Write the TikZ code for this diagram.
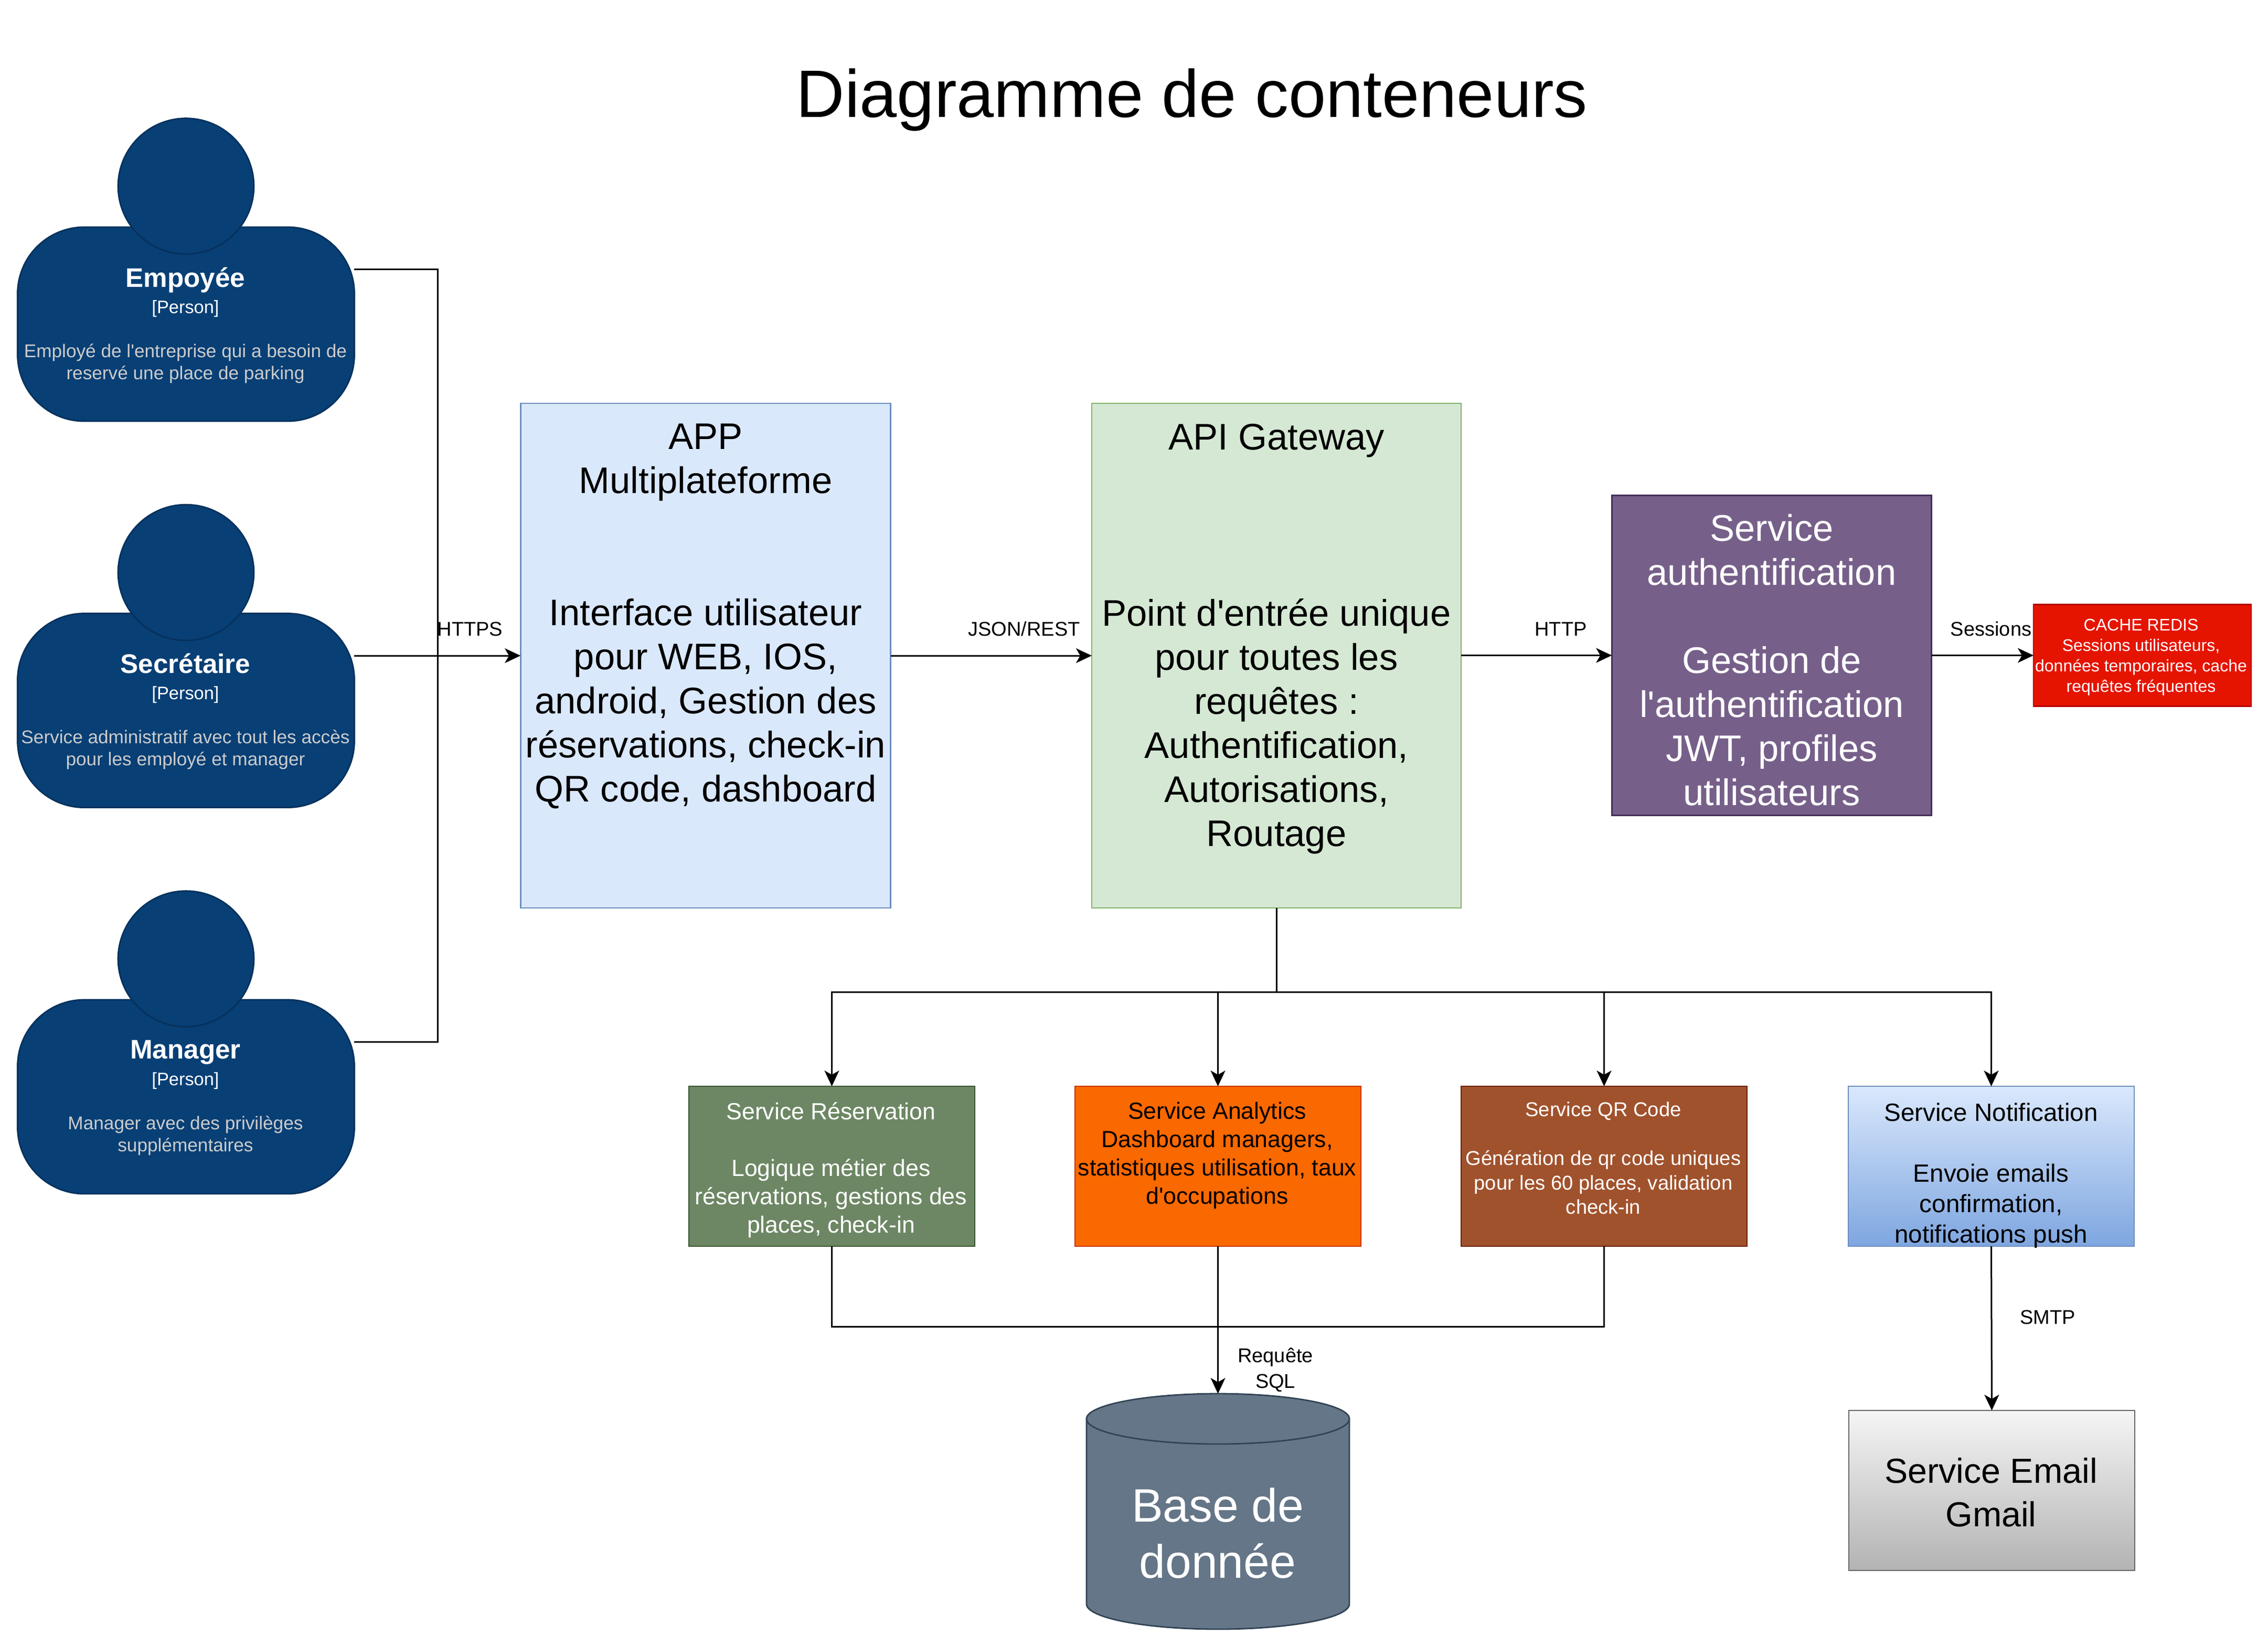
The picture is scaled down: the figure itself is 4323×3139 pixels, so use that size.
\documentclass[tikz,border=0pt]{standalone}
\usepackage{fontspec}
\setmainfont{Liberation Sans}[Ligatures=TeXOff]
\usetikzlibrary{arrows.meta,calc}
\definecolor{pfill}{HTML}{083F75}
\definecolor{pline}{HTML}{06315C}
\definecolor{pdesc}{HTML}{CCCCCC}
\definecolor{appfill}{HTML}{DAE8FC}
\definecolor{appline}{HTML}{6C8EBF}
\definecolor{apifill}{HTML}{D5E8D4}
\definecolor{apiline}{HTML}{82B366}
\definecolor{authfill}{HTML}{76608A}
\definecolor{authline}{HTML}{432D57}
\definecolor{redfill}{HTML}{E51400}
\definecolor{redline}{HTML}{B20000}
\definecolor{resfill}{HTML}{6D8764}
\definecolor{resline}{HTML}{3A5431}
\definecolor{orfill}{HTML}{FA6800}
\definecolor{orline}{HTML}{C73500}
\definecolor{qrfill}{HTML}{A0522D}
\definecolor{qrline}{HTML}{6D1F00}
\definecolor{notiftop}{HTML}{DAE8FC}
\definecolor{notifbot}{HTML}{7EA6E0}
\definecolor{mailtop}{HTML}{F5F5F5}
\definecolor{mailbot}{HTML}{B3B3B3}
\definecolor{mailline}{HTML}{666666}
\definecolor{dbfill}{HTML}{647687}
\definecolor{dbline}{HTML}{314354}
\newcommand{\fs}[2]{\fontsize{#1pt}{#2pt}\selectfont}
\tikzset{
  x=0.25pt,y=-0.25pt,
  shapebox/.style={draw,rectangle,inner sep=0pt,outer sep=0pt,line width=0.7pt},
  bigtxt/.style={align=center,inner sep=0pt,font=\fs{17.65}{21}},
  edgetxt/.style={align=center,inner sep=0pt,font=\fs{9.5}{11.75}},
  conn/.style={draw=black,line width=0.75pt,-{Stealth[length=7.5pt,width=7pt,inset=2pt]}},
  plain/.style={draw=black,line width=0.75pt},
  body/.style={draw=pline,fill=pfill,rectangle,rounded corners=31.75pt,inner sep=0pt,outer sep=0pt,line width=0.7pt,minimum width=160.5pt,minimum height=92.5pt},
  head/.style={draw=pline,fill=pfill,circle,inner sep=0pt,outer sep=0pt,line width=0.7pt,minimum size=64.7pt},
  ptxt/.style={align=center,inner sep=0pt,text=white,font=\fs{8.8}{10.5}},
  dbshape/.style={draw=dbline,fill=dbfill,line width=0.7pt},
}
\newcommand{\persontext}[3]{\fs{12.8}{10.5}\bfseries #1\\[2pt]\fs{8.6}{10.5}[Person]\\[10.5pt]\fs{8.8}{10.5}\textcolor{pdesc}{#2}\\\fs{8.8}{10.5}\textcolor{pdesc}{#3}}
\begin{document}
\begin{tikzpicture}
\useasboundingbox (0,0) rectangle (4323,3139);
% title
\node[inner sep=0pt,font=\fs{32}{38}] (title) at (2272,190) {Diagramme de conteneurs};
% persons
\node[body] (pa) at (354.5,618) {};
\node[head] (pah) at (354.5,355) {};
\node[ptxt] (pat) at (353.5,620) {\persontext{Empoyée}{Employé de l'entreprise qui a besoin de}{reservé une place de parking}};
\node[body] (pb) at (354.5,1354.5) {};
\node[head] (pbh) at (354.5,1091.5) {};
\node[ptxt] (pbt) at (353.5,1356.5) {\persontext{Secrétaire}{Service administratif avec tout les accès}{pour les employé et manager}};
\node[body] (pc) at (354.5,2091) {};
\node[head] (pch) at (354.5,1828) {};
\node[ptxt] (pct) at (353.5,2093) {\persontext{Manager}{Manager avec des privilèges}{supplémentaires}};
\coordinate (paout) at (675,513);
\coordinate (pbout) at (675,1250);
\coordinate (pcout) at (675,1986);
\coordinate (bus) at (834,1250);
% main boxes
\node[shapebox,draw=appline,fill=appfill,minimum width=176.4pt,minimum height=240.5pt] (app) at (1345,1250) {};
\node[bigtxt] (appt) at (1345,1175) {APP\\Multiplateforme\\\mbox{}\\\mbox{}\\Interface utilisateur\\pour WEB, IOS,\\android, Gestion des\\réservations, check-in\\QR code, dashboard};
\node[shapebox,draw=apiline,fill=apifill,minimum width=176pt,minimum height=240.5pt] (api) at (2433,1250) {};
\node[bigtxt] (apit) at (2433,1218) {API Gateway\\\mbox{}\\\mbox{}\\\mbox{}\\Point d'entrée unique\\pour toutes les\\requêtes :\\Authentification,\\Autorisations,\\Routage};
\node[shapebox,draw=authline,fill=authfill,minimum width=152.35pt,minimum height=152.35pt] (auth) at (3377,1249.5) {};
\node[bigtxt,text=white] (autht) at (3377,1258) {Service\\authentification\\\mbox{}\\Gestion de\\l'authentification\\JWT, profiles\\utilisateurs};
\node[shapebox,draw=redline,fill=redfill,minimum width=103.75pt,minimum height=48.5pt] (cache) at (4083.5,1249.5) {};
\node[align=center,inner sep=0pt,text=white,font=\fs{8}{9.75}] (cachet) at (4081,1253) {CACHE REDIS\\Sessions utilisateurs,\\données temporaires, cache\\requêtes fréquentes};
% services
\node[shapebox,draw=resline,fill=resfill,minimum width=136.25pt,minimum height=76.25pt] (res) at (1585.5,2223.5) {};
\node[align=center,inner sep=0pt,text=white,font=\fs{11.15}{13.5}] (rest) at (1584,2231) {Service Réservation\\\mbox{}\\Logique métier des\\réservations, gestions des\\places, check-in};
\node[shapebox,draw=orline,fill=orfill,minimum width=136.25pt,minimum height=76.25pt] (ana) at (2321.5,2223.5) {};
\node[align=center,inner sep=0pt,font=\fs{11.15}{13.5}] (anat) at (2320,2203) {Service Analytics\\Dashboard managers,\\statistiques utilisation, taux\\d'occupations};
\node[shapebox,draw=qrline,fill=qrfill,minimum width=136.25pt,minimum height=76.25pt] (qr) at (3057.5,2223.5) {};
\node[align=center,inner sep=0pt,text=white,font=\fs{9.55}{11.6}] (qrt) at (3056,2208) {Service QR Code\\\mbox{}\\Génération de qr code uniques\\pour les 60 places, validation\\check-in};
\node[shapebox,draw=appline,top color=notiftop,bottom color=notifbot,minimum width=136.25pt,minimum height=76.25pt] (notif) at (3795.5,2223.5) {};
\node[align=center,inner sep=0pt,font=\fs{11.9}{14.5}] (notift) at (3795,2241) {Service Notification\\\mbox{}\\Envoie emails\\confirmation,\\notifications push};
\node[shapebox,draw=mailline,top color=mailtop,bottom color=mailbot,minimum width=136.25pt,minimum height=76.25pt] (mail) at (3796.5,2841.5) {};
\node[align=center,inner sep=0pt,font=\fs{16.6}{20.75}] (mailt) at (3795,2845) {Service Email\\Gmail};
% database
\draw[dbshape] (2071,2705) arc[start angle=180,end angle=0,x radius=62.625pt,y radius=12pt] -- (2572,3058) arc[start angle=0,end angle=-180,x radius=62.625pt,y radius=12pt] -- cycle;
\draw[dbshape,fill=none] (2071,2705) arc[start angle=180,end angle=360,x radius=62.625pt,y radius=12pt];
\coordinate (dbtop) at (2321.5,2657);
\node[align=center,inner sep=0pt,text=white,font=\fs{22.35}{26.9}] (dbt) at (2321,2923) {Base de\\donnée};
% connectors
\draw[plain] (paout) -| (bus);
\draw[plain] (pcout) -| (bus);
\draw[conn] (pbout) -- (app.west);
\draw[conn] (app.east) -- (api.west);
\draw[conn] (api.east |- auth.west) -- (auth.west);
\draw[conn] (auth.east) -- (cache.west);
\coordinate (split) at ($(api.south)+(0,160)$);
\draw[plain] (api.south) -- (split);
\draw[conn] (split) -| (res.north);
\draw[conn] (split) -| (ana.north);
\draw[conn] (split) -| (qr.north);
\draw[conn] (split) -| (notif.north);
\coordinate (merge) at (2321.5,2529);
\draw[plain] (res.south) |- (merge);
\draw[plain] (qr.south) |- (merge);
\draw[conn] (ana.south) -- (dbtop);
\draw[conn] (notif.south) -- (mail.north);
% labels
\node[edgetxt] (l1) at (896,1199) {HTTPS};
\node[edgetxt] (l2) at (1952,1199) {JSON/REST};
\node[edgetxt] (l3) at (2975,1199) {HTTP};
\node[edgetxt] (l4) at (3795,1199) {Sessions};
\node[edgetxt,font=\fs{9.5}{12.25}] (l5) at (2431,2612) {Requête\\SQL};
\node[edgetxt] (l6) at (3903,2511) {SMTP};
\end{tikzpicture}
\end{document}
